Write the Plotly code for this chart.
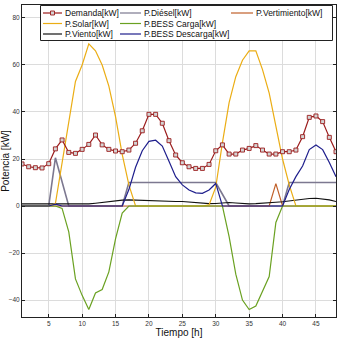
import plotly.graph_objects as go

hours = list(range(1, 49))

demanda = [17.9, 16.7, 16.3, 16.2, 18.0, 24.3, 28.1, 22.8, 22.4, 24.1,
           26.2, 30.2, 26.0, 24.1, 23.4, 23.1, 23.8, 26.7, 32.0, 39.0,
           39.0, 35.2, 27.8, 21.7, 18.4, 16.7, 16.0, 16.0, 17.7, 23.5,
           26.0, 22.1, 22.1, 23.8, 24.5, 25.7, 23.8, 22.1, 22.1, 23.1,
           23.1, 23.8, 29.5, 37.7, 38.3, 35.9, 29.2, 23.1]
p_solar = [0, 0, 0, 0, 0, 1, 19, 37, 53, 60,
           69, 66, 60, 51, 38, 22, 9, 0, 0, 0,
           0, 0, 0, 0, 0, 0, 0, 0, 0.5, 8,
           27, 44, 55, 62, 66, 66, 58, 48, 34, 20,
           9, 0, 0, 0, 0, 0, 0, 0]
p_bess_carga = [0, 0, 0, 0, 0, 0, -1, -11, -31, -38,
                -44, -37, -35.5, -28, -14, -3, 0, 0, 0, 0,
                0, 0, 0, 0, 0, 0, 0, 0, 0, 0,
                0, -13, -29, -40, -44, -42.5, -36, -30, -7, 0,
                0, 0, 0, 0, 0, 0, 0, 0]
p_viento = [0.9, 0.9, 0.8, 0.7, 0.6, 0.6, 0.6, 0.6, 0.7, 0.8,
            0.9, 1.2, 1.6, 1.9, 2.2, 2.5, 2.6, 2.5, 2.3, 2.1,
            1.9, 1.8, 1.8, 1.9, 1.9, 1.7, 1.4, 1.1, 1.0, 1.1,
            1.3, 1.5, 1.3, 1.0, 0.9, 1.0, 1.3, 1.5, 1.6, 1.8,
            2.2, 2.6, 3.0, 3.2, 3.3, 3.1, 2.6, 1.9]
p_diesel = [0, 0, 0, 0, 0, 20.5, 10, 0, 0, 0,
            0, 0, 0, 0, 0, 0, 10, 10, 10, 10,
            10, 10, 10, 10, 10, 10, 10, 10, 10, 10,
            5, 0, 0, 0, 0, 0, 0, 0, 0, 0,
            10, 10, 10, 10, 10, 10, 10, 10]
p_bess_descarga = [0, 0, 0, 0, 0, 0.8, 0, 0, 0, 0,
                   0, 0, 0, 0, 0, 0, 7, 16.5, 23.5, 27.5,
                   28, 25.5, 19, 12.5, 9, 6.8, 5.6, 5.4, 6.8, 9.6,
                   0, 0, 0, 0, 0, 0, 0, 0, 0, 0,
                   7, 12.5, 17, 24, 26, 24, 18.5, 12.5]
p_vertimiento = [0] * 38 + [9.5] + [0] * 9

x_ticks = [5, 10, 15, 20, 25, 30, 35, 40, 45]
y_ticks = [-40, -20, 0, 20, 40, 60, 80]

names = ["Demanda[kW]", "P.Diésel[kW]", "P.Vertimiento[kW]",
         "P.Solar[kW]", "P.BESS Carga[kW]",
         "P.Viento[kW]", "P.BESS Descarga[kW]"]

colors = {
    "Demanda[kW]": "#9b1c1c",
    "P.Diésel[kW]": "#7c7890",
    "P.Vertimiento[kW]": "#c0602a",
    "P.Solar[kW]": "#ebad14",
    "P.BESS Carga[kW]": "#6aa121",
    "P.Viento[kW]": "#111111",
    "P.BESS Descarga[kW]": "#1e1e8c",
}
widths = {
    "P.Diésel[kW]": 1.6,
    "P.Vertimiento[kW]": 1.2,
    "P.Viento[kW]": 1.1,
    "P.Solar[kW]": 1.2,
    "P.BESS Carga[kW]": 1.2,
    "P.BESS Descarga[kW]": 1.2,
}

series = {
    "P.Diésel[kW]": p_diesel,
    "P.Vertimiento[kW]": p_vertimiento,
    "P.Viento[kW]": p_viento,
    "P.Solar[kW]": p_solar,
    "P.BESS Carga[kW]": p_bess_carga,
    "P.BESS Descarga[kW]": p_bess_descarga,
}

fig = go.Figure()
for nm, vals in series.items():
    fig.add_trace(go.Scatter(x=hours, y=vals, name=nm, mode="lines",
                             line=dict(color=colors[nm], width=widths[nm]),
                             showlegend=False))
fig.add_trace(go.Scatter(x=hours, y=demanda, name="Demanda[kW]", mode="lines+markers",
                         line=dict(color=colors["Demanda[kW]"], width=1.2),
                         marker=dict(symbol="square", size=4, color="#d4d4d4",
                                     line=dict(color=colors["Demanda[kW]"], width=0.9)),
                         showlegend=False))

W, H = 340, 338
ML, MR, MT, MB = 22, 4, 5, 21
PW, PH = W - ML - MR, H - MT - MB


def px(x):
    return (x - ML) / PW


def py(y):
    return (H - MB - y) / PH


shapes = [dict(type="rect", xref="paper", yref="paper",
               x0=px(40.5), x1=px(332.5), y0=py(40.5), y1=py(5.5),
               fillcolor="white", line=dict(color="#222", width=1), layer="above")]
annotations = []

# legend layout: columns (line start, line end, text x), rows y
cols = [(43, 62, 64), (120, 141, 143), (231, 253, 255)]
rows = [13, 23.5, 34]
layout_pos = {
    "Demanda[kW]": (0, 0), "P.Solar[kW]": (0, 1), "P.Viento[kW]": (0, 2),
    "P.Diésel[kW]": (1, 0), "P.BESS Carga[kW]": (1, 1), "P.BESS Descarga[kW]": (1, 2),
    "P.Vertimiento[kW]": (2, 0),
}
for nm in names:
    c, r = layout_pos[nm]
    x0, x1, tx = cols[c]
    yy = rows[r]
    shapes.append(dict(type="line", xref="paper", yref="paper",
                       x0=px(x0), x1=px(x1), y0=py(yy), y1=py(yy),
                       line=dict(color=colors[nm], width=1.2), layer="above"))
    if nm == "Demanda[kW]":
        cx = (x0 + x1) / 2
        shapes.append(dict(type="rect", xref="paper", yref="paper",
                           x0=px(cx - 2), x1=px(cx + 2), y0=py(yy + 2), y1=py(yy - 2),
                           fillcolor="#d4d4d4", line=dict(color=colors[nm], width=0.9),
                           layer="above"))
    annotations.append(dict(text=nm, xref="paper", yref="paper", x=px(tx), y=py(yy),
                            xanchor="left", yanchor="middle", showarrow=False,
                            borderpad=0,
                            font=dict(size=8.5, color="#111",
                                      family="Liberation Sans, Arial, sans-serif")))

axis_common = dict(showline=True, linecolor="#222", linewidth=1, mirror="ticks",
                   ticks="inside", ticklen=3, tickcolor="#222",
                   showgrid=True, gridcolor="#dcdcdc", gridwidth=1, zeroline=False,
                   tickfont=dict(size=6.5, color="#333",
                                 family="Liberation Sans, Arial, sans-serif"),
                   automargin=False)

fig.update_layout(
    width=W, height=H,
    margin=dict(l=ML, r=MR, t=MT, b=MB),
    paper_bgcolor="white", plot_bgcolor="white",
    xaxis=dict(range=[1, 48], tickvals=x_ticks,
               title=dict(text="Tiempo [h]", standoff=1,
                          font=dict(size=10, color="#111",
                                    family="Liberation Sans, Arial, sans-serif")),
               **axis_common),
    yaxis=dict(range=[-47.2, 85.5], tickvals=y_ticks,
               title=dict(text="Potencia [kW]", standoff=1,
                          font=dict(size=10, color="#111",
                                    family="Liberation Sans, Arial, sans-serif")),
               **axis_common),
    shapes=shapes,
    annotations=annotations,
    showlegend=False,
)

fig.write_html("out.html")
